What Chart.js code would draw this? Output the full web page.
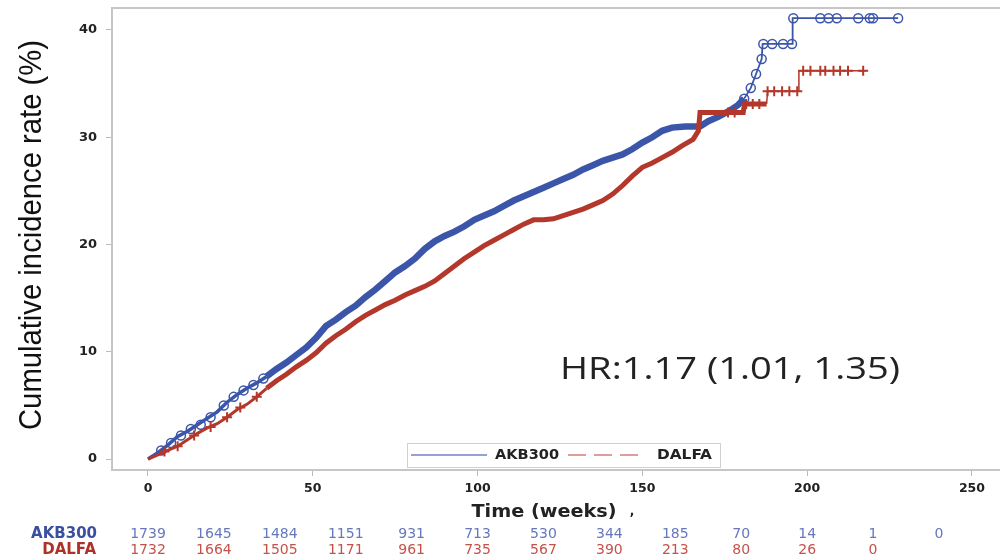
<!DOCTYPE html>
<html>
<head>
<meta charset="utf-8">
<script src="https://cdn.jsdelivr.net/npm/chart.js@4.4.0/dist/chart.umd.min.js"></script>
<style>
  html, body { margin: 0; padding: 0; background: #fff; }
  #wrap { width: 1002px; height: 560px; position: relative; }
</style>
</head>
<body>
<div id="wrap"><canvas id="kmChart"></canvas></div>
<script>
// cumulative incidence, AKB300 (blue) - week / percent
const akbWeeks = [0, 3, 6, 9, 12, 15, 18, 21, 24, 27, 30, 33, 36, 39, 42, 45, 48, 51, 54, 57, 60, 63, 66, 69, 72, 75, 78, 81, 84, 87, 90, 93, 96, 99, 102, 105, 108, 111, 114, 117, 120, 123, 126, 129, 132, 135, 138, 141, 144, 147, 150, 153, 156, 159, 163, 167.5, 170, 173, 176.6, 179, 180.9, 182.9, 184.5, 186.2, 186.5, 195.5, 195.6, 227.6];
const akbRate = [0, 0.6, 1.3, 2.1, 2.6, 3.2, 3.8, 4.4, 5.3, 6.0, 6.6, 7.1, 7.7, 8.4, 9.0, 9.7, 10.4, 11.3, 12.4, 13.0, 13.7, 14.3, 15.1, 15.8, 16.6, 17.4, 18.0, 18.7, 19.6, 20.3, 20.8, 21.2, 21.7, 22.3, 22.7, 23.1, 23.6, 24.1, 24.5, 24.9, 25.3, 25.7, 26.1, 26.5, 27.0, 27.4, 27.8, 28.1, 28.4, 28.9, 29.5, 30.0, 30.6, 30.9, 31.0, 31.0, 31.5, 31.9, 32.5, 33.0, 33.6, 34.6, 35.9, 37.3, 38.7, 38.7, 41.1, 41.1];

// DALFA (red)
const dalfaWeeks = [0, 3, 6, 9, 12, 15, 18, 21, 24, 27, 30, 33, 36, 39, 42, 45, 48, 51, 54, 57, 60, 63, 66, 69, 72, 75, 78, 81, 84, 87, 90, 93, 96, 99, 102, 105, 108, 111, 114, 117, 120, 123, 126, 129, 132, 135, 138, 141, 144, 147, 150, 153, 156, 159, 162, 165.4, 167, 167.5, 180.6, 181, 187.7, 188, 197.3, 197.5, 218];
const dalfaRate = [0, 0.4, 0.8, 1.2, 1.8, 2.4, 2.9, 3.3, 3.9, 4.6, 5.1, 5.8, 6.6, 7.3, 7.9, 8.6, 9.2, 9.9, 10.8, 11.5, 12.1, 12.8, 13.4, 13.9, 14.4, 14.8, 15.3, 15.7, 16.1, 16.6, 17.3, 18.0, 18.7, 19.3, 19.9, 20.4, 20.9, 21.4, 21.9, 22.3, 22.3, 22.4, 22.7, 23.0, 23.3, 23.7, 24.1, 24.7, 25.5, 26.4, 27.2, 27.6, 28.1, 28.6, 29.2, 29.8, 30.6, 32.3, 32.3, 33.1, 33.1, 34.3, 34.3, 36.2, 36.2];

// censored observations
const akbCensorWeeks = [4, 7, 10, 13, 16, 19, 23, 26, 29, 32, 35, 180.9, 182.9, 184.5, 186.2, 186.7, 189.4, 192.7, 195.4, 195.8, 204, 206.5, 209, 215.5, 219, 220, 227.6];
const akbCensorRate = [0.8, 1.5, 2.2, 2.8, 3.2, 3.9, 5.0, 5.8, 6.4, 6.9, 7.5, 33.6, 34.6, 35.9, 37.3, 38.7, 38.7, 38.7, 38.7, 41.1, 41.1, 41.1, 41.1, 41.1, 41.1, 41.1, 41.1];
const dalfaCensorWeeks = [5, 9, 14, 19, 24, 28, 33, 176, 178, 181.5, 183.5, 185.5, 188, 190, 192.4, 194.6, 197, 198.8, 201, 204, 205.5, 208, 210, 212.4, 217];
const dalfaCensorRate = [0.7, 1.2, 2.2, 3.0, 3.9, 4.8, 5.8, 32.3, 32.3, 33.1, 33.1, 33.1, 34.3, 34.3, 34.3, 34.3, 34.3, 36.2, 36.2, 36.2, 36.2, 36.2, 36.2, 36.2, 36.2];

// number at risk
const riskWeeks = [0, 20, 40, 60, 80, 100, 120, 140, 160, 180, 200, 220, 240];
const akbAtRisk = ['1739', '1645', '1484', '1151', '931', '713', '530', '344', '185', '70', '14', '1', '0'];
const dalfaAtRisk = ['1732', '1664', '1505', '1171', '961', '735', '567', '390', '213', '80', '26', '0'];

const xTicks = [0, 50, 100, 150, 200, 250];
const yTicks = [0, 10, 20, 30, 40];
const groupNames = ['AKB300', 'DALFA'];
const hrText = 'HR:1.17 (1.01, 1.35)';
const xTitle = 'Time (weeks)';
const yTitle = 'Cumulative incidence rate (%)';

const BLUE = '#3b55a9';
const RED = '#b3372b';

function pts(xs, ys) {
    return xs.map((x, i) => ({ x: x, y: ys[i] }));
}

// text squeezed/stretched to a given width
function fitText(c, txt, x, y, width, angle) {
    const w = c.measureText(txt).width;
    c.save();
    c.translate(x, y);
    c.rotate(angle || 0);
    c.scale(width / w, 1);
    c.fillText(txt, 0, 0);
    c.restore();
}

const extras = {
    id: 'extras',
    afterDraw(chart) {
        const c = chart.ctx;
        const a = chart.chartArea;
        const xs = chart.scales.x;
        c.save();
        // frame
        c.strokeStyle = '#c6c6c6';
        c.lineWidth = 2;
        c.beginPath();
        c.moveTo(a.left, a.bottom);
        c.lineTo(a.left, a.top);
        c.lineTo(chart.width - 2, a.top);
        c.moveTo(a.right, a.bottom);
        c.lineTo(chart.width - 2, a.bottom);
        c.stroke();

        // y title
        c.fillStyle = '#111';
        c.textAlign = 'center';
        c.textBaseline = 'middle';
        c.font = '32px "Liberation Sans Narrow", "Liberation Sans", sans-serif';
        fitText(c, yTitle, 32, 235, 390, -Math.PI / 2);

        // HR annotation
        c.fillStyle = '#222';
        c.font = '31px "Open Sans", sans-serif';
        fitText(c, hrText, 730, 370, 340, 0);

        // legend box
        const lx = 407, ly = 443, lw = 313, lh = 24;
        c.fillStyle = '#fff';
        c.fillRect(lx, ly, lw, lh);
        c.strokeStyle = '#d0d0d0';
        c.lineWidth = 1;
        c.strokeRect(lx + 0.5, ly + 0.5, lw, lh);
        c.lineWidth = 1.5;
        c.strokeStyle = '#7282c4';
        c.beginPath(); c.moveTo(411, 455); c.lineTo(487, 455); c.stroke();
        c.strokeStyle = '#cf7f7a';
        c.setLineDash([18, 8]);
        c.beginPath(); c.moveTo(568, 455); c.lineTo(642, 455); c.stroke();
        c.setLineDash([]);
        c.fillStyle = '#222';
        c.textAlign = 'left';
        c.font = 'bold 14px "DejaVu Sans", sans-serif';
        fitText(c, groupNames[0], 495, 455, 64, 0);
        fitText(c, groupNames[1], 657, 455, 55, 0);

        // x title
        c.textAlign = 'center';
        c.font = 'bold 18px "DejaVu Sans", sans-serif';
        fitText(c, xTitle, 544, 512, 145, 0);
        c.font = 'bold 12px "DejaVu Sans", sans-serif';
        c.fillText(',', 632, 512);

        // risk table
        c.textAlign = 'right';
        c.font = 'bold 15px "DejaVu Sans", sans-serif';
        c.fillStyle = '#3a4fa0';
        c.fillText(groupNames[0], 97, 534);
        c.fillStyle = '#ad3128';
        c.fillText(groupNames[1], 96, 550);
        c.textAlign = 'center';
        c.font = '14px "DejaVu Sans", sans-serif';
        c.fillStyle = '#6577bd';
        akbAtRisk.forEach((v, i) => c.fillText(v, xs.getPixelForValue(riskWeeks[i]), 534));
        c.fillStyle = '#c4524b';
        dalfaAtRisk.forEach((v, i) => c.fillText(v, xs.getPixelForValue(riskWeeks[i]), 550));
        c.restore();
    }
};

const ctx = document.getElementById('kmChart').getContext('2d');
new Chart(ctx, {
    type: 'line',
    data: {
        datasets: [
            {
                label: groupNames[0],
                data: pts(akbWeeks, akbRate),
                borderColor: BLUE,
                pointRadius: 0,
                borderWidth: 6,
                segment: {
                    borderWidth: s => s.p0.parsed.x >= 180 ? 1.8 : (s.p0.parsed.x < 36 ? 3.5 : 6.5)
                },
                order: 2
            },
            {
                label: groupNames[1],
                data: pts(dalfaWeeks, dalfaRate),
                borderColor: RED,
                pointRadius: 0,
                borderWidth: 5,
                segment: {
                    borderWidth: s => s.p0.parsed.x >= 185 ? 1.5 : (s.p0.parsed.x < 36 ? 3 : 5)
                },
                order: 1
            },
            {
                label: 'akb censored',
                type: 'scatter',
                data: pts(akbCensorWeeks, akbCensorRate),
                pointStyle: 'circle',
                pointRadius: 4.5,
                borderColor: BLUE,
                backgroundColor: 'rgba(255,255,255,0)',
                borderWidth: 1.5,
                showLine: false,
                order: 3
            },
            {
                label: 'dalfa censored',
                type: 'scatter',
                data: pts(dalfaCensorWeeks, dalfaCensorRate),
                pointStyle: 'cross',
                pointRadius: 5,
                borderColor: RED,
                borderWidth: 2,
                showLine: false,
                order: 0
            }
        ]
    },
    options: {
        responsive: true,
        maintainAspectRatio: false,
        animation: false,
        layout: { padding: { top: 8, right: 2, left: 0, bottom: 0 } },
        plugins: {
            legend: { display: false },
            tooltip: { enabled: false }
        },
        scales: {
            x: {
                type: 'linear',
                min: -10.92,
                max: 257.0,
                afterBuildTicks: s => { s.ticks = xTicks.map(v => ({ value: v })); },
                afterFit: s => { s.height = 90; s.paddingLeft = 0; s.paddingRight = 0; },
                grid: { drawOnChartArea: false, drawTicks: true, tickLength: 6, color: '#bbb' },
                border: { color: '#c6c6c6', width: 2 },
                ticks: {
                    font: { family: '"DejaVu Sans", sans-serif', size: 12.5, weight: 'bold' },
                    color: '#222',
                    padding: 5,
                    maxRotation: 0
                }
            },
            y: {
                min: -1.02,
                max: 42.05,
                afterBuildTicks: s => { s.ticks = yTicks.map(v => ({ value: v })); },
                afterFit: s => { s.width = 112; s.paddingTop = 0; s.paddingBottom = 0; },
                grid: { drawOnChartArea: false, drawTicks: true, tickLength: 6, color: '#bbb' },
                border: { color: '#c6c6c6', width: 2 },
                ticks: {
                    font: { family: '"DejaVu Sans", sans-serif', size: 13, weight: 'bold' },
                    color: '#222',
                    padding: 9
                }
            }
        }
    },
    plugins: [extras]
});
</script>
</body>
</html>
